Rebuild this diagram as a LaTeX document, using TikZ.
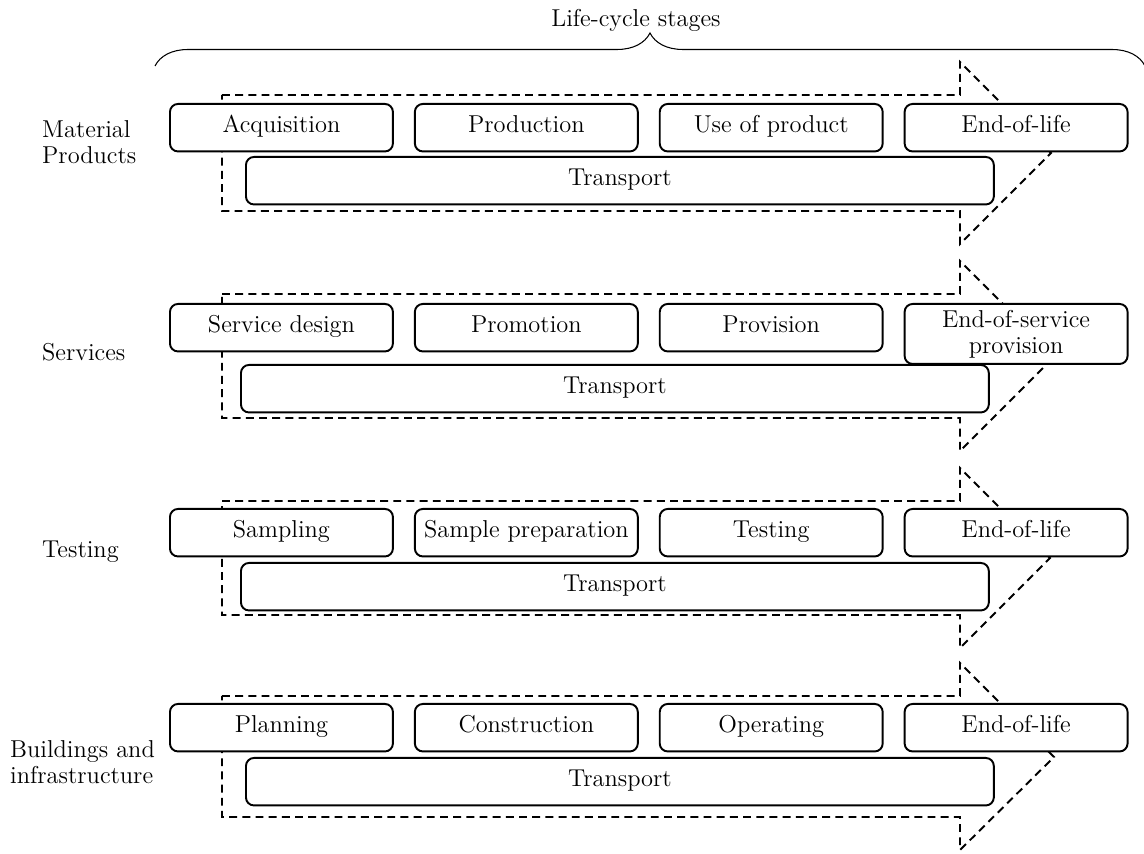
\documentclass[tikz,border=0pt]{standalone}
\usepackage{tikz}
\usetikzlibrary{positioning,decorations.pathreplacing}
\tikzstyle{stage}=[
        draw,
        line width = 1.1pt,
        rounded corners = 0.16cm,
        fill = white,
        minimum width = 4.46cm,
        minimum height = 0.95cm,
        text height = 1.6ex,
        text depth = 0.45ex,
        inner sep = 1.5pt
    ]
\tikzstyle{transport}=[stage, minimum width = 14.96cm]
\tikzstyle{flow}=[line width = 1.1pt, dash pattern = on 4.5pt off 3pt, miter limit = 20]
\tikzstyle{group}=[align = left, anchor = west]

\begin{document}
\begin{tikzpicture}[x=0.02cm, y=-0.02cm, node distance=0.4cm, font=\fontsize{13.9}{14.8}\selectfont]
        \useasboundingbox (0,0) rectangle (1144,854);

        % life-cycle brace
        \node (title) at (636,20) {Life-cycle stages};
        \draw[decorate, decoration={brace, amplitude=0.66cm}, line width=0.6pt] (155,66) -- (1145,66);

        % dashed arrows behind the stages
        \draw[flow] (222,95) -- (960,95) -- (960,62) -- (1051,153) -- (960,244) -- (960,211) -- (222,211) -- cycle;
        \draw[flow] (222,294) -- (960,294) -- (960,261) -- (1055,356) -- (960,451) -- (960,418) -- (222,418) -- cycle;
        \draw[flow] (222,501) -- (960,501) -- (960,468) -- (1050,558) -- (960,648) -- (960,615) -- (222,615) -- cycle;
        \draw[flow] (222,696) -- (960,696) -- (960,663) -- (1054,757) -- (960,850) -- (960,817) -- (222,817) -- cycle;

        % material products
        \node[group] (mat) at (36,142) {Material\\Products};
        \node[stage, anchor=north west] (acq) at (169,103) {Acquisition};
        \node[stage, right=of acq] (prod) {Production};
        \node[stage, right=of prod] (use) {Use of product};
        \node[stage, right=of use] (eol1) {End-of-life};
        \node[transport, anchor=north west] (tr1) at (245,156) {Transport};

        % services
        \node[group] (serv) at (36,352) {Services};
        \node[stage, anchor=north west] (design) at (169,303) {Service design};
        \node[stage, right=of design] (promo) {Promotion};
        \node[stage, right=of promo] (prov) {Provision};
        \node[stage, right=of prov.north east, anchor=north west, align=center,
              text height=, text depth=, minimum height=1.2cm] (eos) {End-of-service\\provision};
        \node[transport, anchor=north west] (tr2) at (240,364) {Transport};

        % testing
        \node[group] (test) at (36,552) {Testing};
        \node[stage, anchor=north west] (samp) at (169,508) {Sampling};
        \node[stage, right=of samp] (prep) {Sample preparation};
        \node[stage, right=of prep] (testing) {Testing};
        \node[stage, right=of testing] (eol3) {End-of-life};
        \node[transport, anchor=north west] (tr3) at (240,562) {Transport};

        % buildings and infrastructure
        \node[group] (build) at (4,762) {Buildings and\\infrastructure};
        \node[stage, anchor=north west] (plan) at (169,703) {Planning};
        \node[stage, right=of plan] (constr) {Construction};
        \node[stage, right=of constr] (oper) {Operating};
        \node[stage, right=of oper] (eol4) {End-of-life};
        \node[transport, anchor=north west] (tr4) at (245,757) {Transport};
    \end{tikzpicture}
\end{document}
